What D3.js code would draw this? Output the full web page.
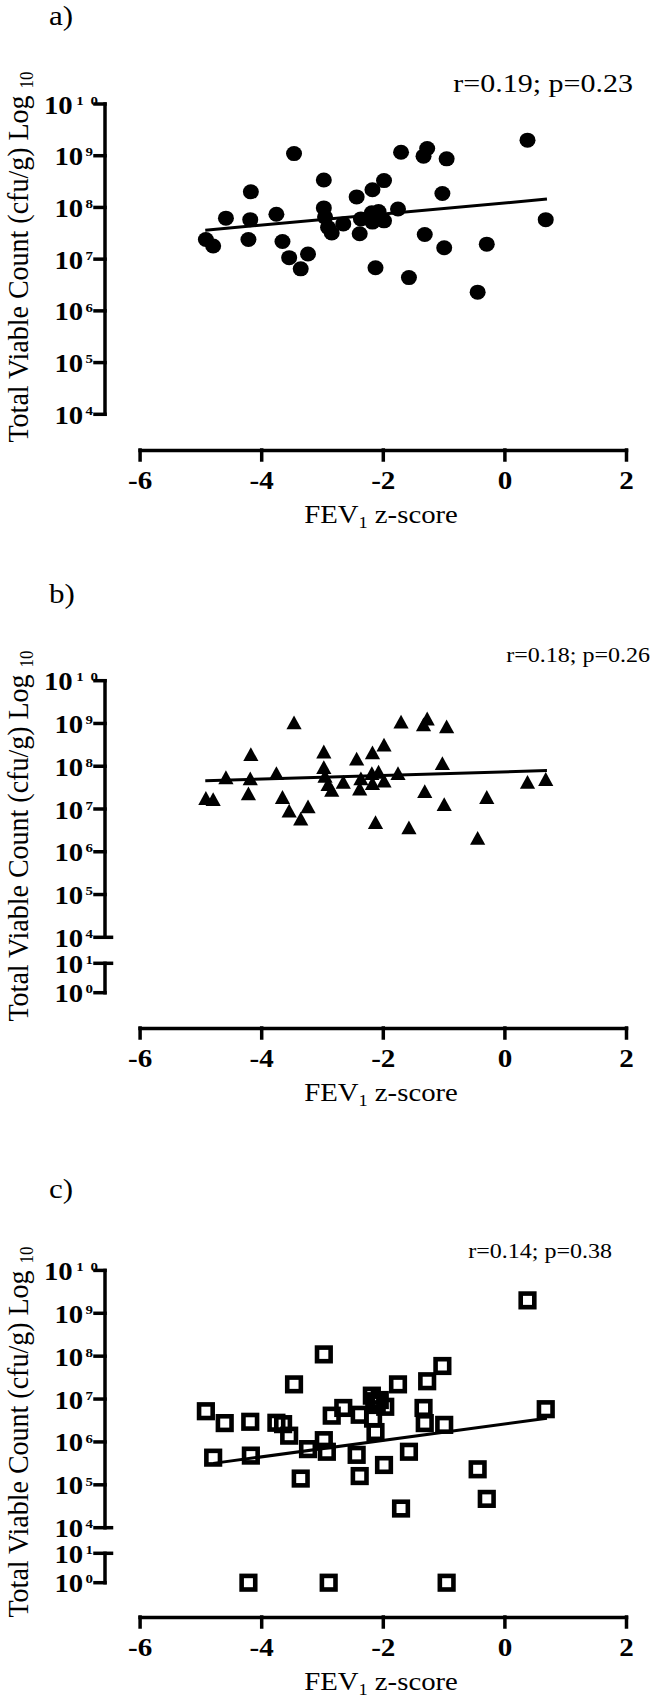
<!DOCTYPE html>
<html><head><meta charset="utf-8">
<script src="https://cdn.jsdelivr.net/npm/d3@7/dist/d3.min.js"></script>
<style>body{margin:0;background:#fff}svg{display:block}</style>
</head><body>
<svg id="chart" width="653" height="1699"></svg>
<script>
// ---------------- DATA ----------------
const panelLabels = ["a)", "b)", "c)"];
const statsTexts = ["r=0.19; p=0.23", "r=0.18; p=0.26", "r=0.14; p=0.38"];
const xTicks = [-6, -4, -2, 0, 2];
const yExpMain = [4, 5, 6, 7, 8, 9, 10];
const yExpLow = [0, 1];

// Panel a: circles
const fevA = [-4.91,-4.79,-4.58,-4.17,-4.18,-4.21,-3.75,-3.65,-3.46,-3.54,-3.35,-3.23,-2.97,-2.97,-2.95,-2.90,-2.84,-2.65,-2.43,-2.36,-2.38,-2.17,-2.18,-2.17,-2.07,-2.12,-1.98,-1.98,-1.75,-1.70,-1.57,-1.33,-1.27,-1.31,-1.02,-0.95,-0.99,-0.44,-0.29,0.38,0.68];
const tvcA = [2.4e7,1.8e7,6.2e7,2.0e8,5.8e7,2.4e7,7.4e7,2.2e7,1.1e9,1.07e7,6.5e6,1.26e7,3.4e8,9.8e7,6.5e7,4.1e7,3.2e7,4.8e7,1.6e8,6.0e7,3.1e7,2.2e8,7.9e7,5.2e7,8.3e7,6.8e6,3.3e8,5.5e7,9.3e7,1.17e9,4.4e6,9.8e8,1.38e9,3.0e7,1.86e8,8.7e8,1.66e7,2.3e6,1.95e7,2.0e9,5.8e7];
const fitAx = [-4.92, 0.70];
const fitAy = [3.63e7, 1.45e8];

// Panel b: triangles
const fevB = [-4.91,-4.79,-4.58,-4.17,-4.18,-4.21,-3.75,-3.65,-3.46,-3.54,-3.35,-3.23,-2.97,-2.97,-2.95,-2.90,-2.84,-2.65,-2.43,-2.36,-2.38,-2.17,-2.18,-2.17,-2.07,-2.12,-1.98,-1.98,-1.75,-1.70,-1.57,-1.33,-1.27,-1.31,-1.02,-0.95,-0.99,-0.44,-0.29,0.38,0.68];
const tvcB = [1.8e7,1.7e7,5.5e7,1.9e8,5.2e7,2.3e7,6.9e7,1.9e7,1.05e9,9.1e6,5.9e6,1.15e7,2.2e8,9.5e7,5.9e7,3.8e7,2.8e7,4.3e7,1.5e8,5.2e7,3.0e7,2.1e8,6.9e7,4.0e7,7.4e7,4.9e6,3.2e8,4.6e7,6.9e7,1.1e9,3.7e6,9.5e8,1.3e9,2.6e7,1.17e8,8.5e8,1.3e7,2.1e6,1.9e7,4.3e7,5.0e7];
const fitBx = [-4.92, 0.70];
const fitBy = [4.57e7, 7.94e7];

// Panel c: open squares
const fevC = [-4.91,-4.60,-4.79,-4.18,-4.17,-3.75,-3.64,-3.54,-3.46,-3.35,-3.23,-2.97,-2.97,-2.92,-2.84,-2.65,-2.43,-2.38,-2.38,-2.18,-2.16,-2.12,-2.05,-1.96,-1.98,-1.75,-1.70,-1.57,-1.33,-1.31,-1.27,-1.02,-0.99,-0.44,-0.29,0.38,0.68,-2.14,-2.10,-4.21,-2.89,-0.95];
const tvcC = [5.2e6,2.75e6,4.3e5,2.95e6,4.8e5,2.8e6,2.6e6,1.4e6,2.2e7,1.4e5,6.8e5,1.1e8,1.1e6,5.9e5,4.1e6,6.2e6,5.0e5,4.3e6,1.6e5,1.2e7,3.5e6,1.7e6,9.5e6,6.6e6,2.9e5,2.2e7,2.8e4,5.9e5,6.2e6,2.75e6,2.6e7,5.9e7,2.5e6,2.3e5,4.7e4,2.0e9,5.8e6,8.9e6,7.9e6,1,1,1];
const fitCx = [-4.79, 0.70];
const fitCy = [3.16e5, 3.55e6];

// ---------------- LAYOUT ----------------
const FONT = "'Liberation Serif','Times New Roman',serif";
const svg = d3.select("#chart");
const xRange = [139.6, 626];
const axisX = 105;

const panels = [
  {label: panelLabels[0], labelY: 25, stats: statsTexts[0], statsRight: 633, statsY: 92, statsSize: 25,
   top: 104, bottom4: 414.3, low: null, xAxisY: 450, titleCY: 257,
   fev: fevA, tvc: tvcA, fitx: fitAx, fity: fitAy, marker: "circle"},
  {label: panelLabels[1], labelY: 603, stats: statsTexts[1], statsRight: 650, statsY: 662, statsSize: 20,
   top: 680.7, bottom4: 937.3, low: [992.7, 963.3], xAxisY: 1028, titleCY: 836,
   fev: fevB, tvc: tvcB, fitx: fitBx, fity: fitBy, marker: "triangle"},
  {label: panelLabels[2], labelY: 1198, stats: statsTexts[2], statsRight: 612, statsY: 1258, statsSize: 20,
   top: 1270.4, bottom4: 1527.7, low: [1582.7, 1553.3], xAxisY: 1617, titleCY: 1432,
   fev: fevC, tvc: tvcC, fitx: fitCx, fity: fitCy, marker: "square"}
];

function stretched(parent, x, y, sx, rot) {
  return parent.append("g")
    .attr("transform", `translate(${x},${y}) scale(${sx},1)` + (rot ? ` rotate(${rot})` : ""))
    .append("text").attr("font-family", FONT).attr("fill", "#000");
}

panels.forEach(p => {
  const g = svg.append("g");
  const x = d3.scaleLinear().domain([-6, 2]).range(xRange);
  const yMain = d3.scaleLog().domain([1e4, 1e10]).range([p.bottom4, p.top]);
  const yLow = p.low ? d3.scaleLog().domain([1, 10]).range(p.low) : null;
  const y = v => (v >= 1e4 || !yLow) ? yMain(v) : yLow(v);

  // panel label
  stretched(g, 49, p.labelY, 1.15).attr("font-size", 27).text(p.label);

  // stats text (right aligned)
  stretched(g, p.statsRight, p.statsY, 1.2).attr("font-size", p.statsSize)
    .attr("text-anchor", "end").text(p.stats);

  // y title
  const t = stretched(g, 28, p.titleCY, 1.05, -90).attr("font-size", 28).attr("text-anchor", "middle");
  t.append("tspan").text("Total Viable Count (cfu/g) Log ");
  t.append("tspan").attr("font-size", 17).attr("dy", 5).text("10");

  // x axis
  const xAxis = d3.axisBottom(x).tickValues(xTicks).tickSize(10).tickSizeOuter(0)
    .tickFormat(d => d < 0 ? "-" + Math.abs(d) : String(d));
  const gx = g.append("g").attr("transform", `translate(0,${p.xAxisY})`).call(xAxis);
  gx.select(".domain").attr("stroke", "#000").attr("stroke-width", 3.5).attr("stroke-linecap", "square");
  gx.selectAll(".tick line").attr("stroke", "#000").attr("stroke-width", 3.5).attr("stroke-linecap", "square");
  gx.selectAll(".tick text").attr("y", 0).attr("dy", null)
    .attr("transform", "translate(0,38.5) scale(1.12,1)")
    .attr("font-family", FONT).attr("font-weight", "bold").attr("font-size", 26).attr("fill", "#000");

  // x title
  const xt = stretched(g, 381, p.xAxisY + 73, 1.15).attr("font-size", 25).attr("text-anchor", "middle");
  xt.append("tspan").text("FEV");
  xt.append("tspan").attr("font-size", 16).attr("dy", 5).text("1");
  xt.append("tspan").attr("dy", -5).text(" z-score");

  // y axis main segment
  const ax = g.append("g").attr("stroke", "#000").attr("stroke-width", 3.5).attr("stroke-linecap", "square");
  ax.append("line").attr("x1", axisX).attr("x2", axisX).attr("y1", yMain(1e10)).attr("y2", yMain(1e4));
  yExpMain.forEach(e => {
    const ext = (p.low && e === 4) ? 6.5 : 0;
    ax.append("line").attr("x1", axisX - 10).attr("x2", axisX + ext)
      .attr("y1", yMain(Math.pow(10, e))).attr("y2", yMain(Math.pow(10, e)));
  });
  const tickEntries = yExpMain.map(e => ({e, yy: yMain(Math.pow(10, e))}));
  if (yLow) {
    ax.append("line").attr("x1", axisX).attr("x2", axisX).attr("y1", yLow(10)).attr("y2", yLow(1));
    yExpLow.forEach(e => {
      const ext = e === 1 ? 6.5 : 0;
      ax.append("line").attr("x1", axisX - 10).attr("x2", axisX + ext)
        .attr("y1", yLow(Math.pow(10, e))).attr("y2", yLow(Math.pow(10, e)));
      tickEntries.push({e, yy: yLow(Math.pow(10, e))});
    });
  }
  tickEntries.forEach(d => {
    const tx = stretched(g, d.e === 10 ? 98 : 93, d.yy + 9.5, 1.15)
      .attr("font-weight", "bold").attr("font-size", 25).attr("text-anchor", "end");
    tx.append("tspan").text("10");
    if (d.e === 10) {
      tx.append("tspan").attr("font-size", 13).attr("dx", 3).attr("dy", -8.8).text("1");
      tx.append("tspan").attr("font-size", 13).attr("dx", 6).text("0");
    } else {
      tx.append("tspan").attr("font-size", 13).attr("dx", 2).attr("dy", -8.8).text(String(d.e));
    }
  });

  // regression line
  const fit = p.fitx.map((fx, i) => [fx, p.fity[i]]);
  g.append("path").datum(fit)
    .attr("d", d3.line().x(d => x(d[0])).y(d => y(d[1])))
    .attr("fill", "none").attr("stroke", "#000").attr("stroke-width", 3);

  // markers
  const pts = p.fev.map((f, i) => ({f, v: p.tvc[i]}));
  const mg = g.append("g");
  if (p.marker === "circle") {
    mg.selectAll("ellipse").data(pts).join("ellipse")
      .attr("cx", d => x(d.f)).attr("cy", d => y(d.v)).attr("rx", 8).attr("ry", 7.5).attr("fill", "#000");
  } else if (p.marker === "triangle") {
    mg.selectAll("path").data(pts).join("path")
      .attr("d", "M0,-7L7.6,6.8L-7.6,6.8Z")
      .attr("transform", d => `translate(${x(d.f)},${y(d.v)})`).attr("fill", "#000");
  } else {
    mg.selectAll("rect").data(pts).join("rect")
      .attr("x", d => x(d.f) - 6.8).attr("y", d => y(d.v) - 6.8)
      .attr("width", 13.6).attr("height", 13.6)
      .attr("fill", "none").attr("stroke", "#000").attr("stroke-width", 4.6);
  }
});
</script>
</body></html>
